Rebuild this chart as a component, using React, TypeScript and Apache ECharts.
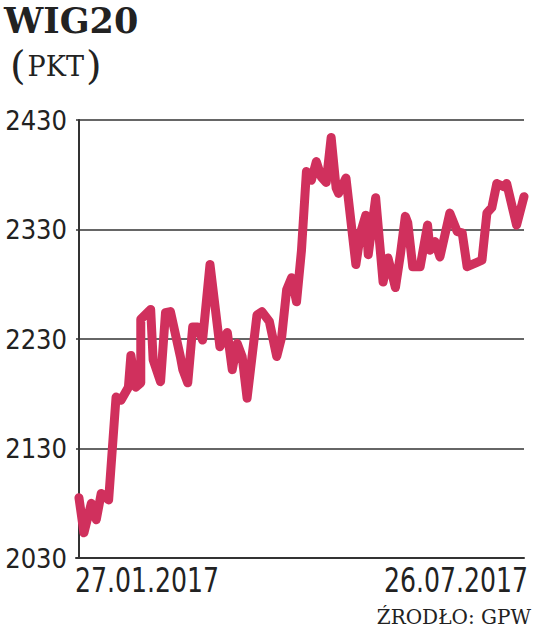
import React, { useEffect, useRef } from "react";
import * as echarts from "echarts";

const TITLE = "WIG20";
const UNIT = "PKT";
const SOURCE = "ŹRODŁO: GPW";
const DATE_LABELS = ["27.01.2017", "26.07.2017"];

// calendar days after 27.01.2017
const dayOffsets = [
  0, 2, 5, 7, 9, 12, 15, 17, 20, 21, 23, 25, 25, 29, 30, 33, 35, 37, 41, 42,
  44, 46, 48, 50, 53, 57, 60, 62, 64, 66, 68, 72, 74, 77, 80, 82, 84, 86, 88,
  90, 92, 94, 96, 98, 100, 102, 104, 105, 108, 112, 114, 116, 117, 120, 123,
  125, 128, 130, 132, 133, 135, 138, 141, 142, 144, 146, 150, 153, 155, 157,
  161, 163, 165, 167, 169, 172, 173, 177, 180,
];
const wig20 = [
  2085, 2053, 2080, 2065, 2089, 2083, 2177, 2174, 2186, 2215, 2186, 2190, 2248,
  2257, 2211, 2191, 2254, 2255, 2214, 2202, 2190, 2241, 2241, 2229, 2298, 2223,
  2236, 2202, 2226, 2214, 2176, 2252, 2255, 2246, 2214, 2232, 2275, 2286, 2264,
  2311, 2383, 2375, 2392, 2378, 2373, 2414, 2368, 2363, 2377, 2298, 2328, 2343,
  2307, 2359, 2282, 2304, 2277, 2307, 2342, 2336, 2296, 2296, 2334, 2311, 2319,
  2305, 2345, 2328, 2327, 2296, 2300, 2302, 2345, 2350, 2372, 2369, 2372, 2334,
  2360,
];
const Y_MIN = 2030;
const Y_MAX = 2430;
const Y_STEP = 100;

const NARROW = "'DejaVu Sans Condensed', 'Liberation Sans Narrow', 'Roboto Condensed', Roboto, sans-serif";

export default function App() {
  const ref = useRef<HTMLDivElement>(null);
  useEffect(() => {
    if (!ref.current) return;
    const chart = echarts.init(ref.current, undefined, { renderer: "svg" });
    const data = dayOffsets.map((d, i) => [d, wig20[i]]);
    chart.setOption({
      animation: false,
      backgroundColor: "#ffffff",
      grid: { left: 76, top: 120, width: 448, height: 438, containLabel: false },
      xAxis: {
        type: "value",
        min: -1.2,
        max: 180,
        axisLine: { show: true, lineStyle: { color: "#333333", width: 2 } },
        axisTick: { show: false },
        axisLabel: { show: false },
        splitLine: { show: false },
      },
      yAxis: {
        type: "value",
        min: Y_MIN,
        max: Y_MAX,
        interval: Y_STEP,
        axisLine: { show: true, lineStyle: { color: "#333333", width: 2 } },
        axisTick: { show: false },
        axisLabel: {
          color: "#222222",
          fontFamily: NARROW,
          fontSize: 27,
          margin: 9,
          formatter: (v: number) => String(v),
        },
        splitLine: { show: true, lineStyle: { color: "#333333", width: 1.5 } },
      },
      series: [
        {
          type: "line",
          data,
          showSymbol: false,
          symbol: "none",
          lineStyle: { color: "#d0305d", width: 9, cap: "round", join: "round" },
          z: 5,
        },
      ],
      graphic: [
        {
          type: "text",
          left: 4,
          top: 3,
          style: {
            text: TITLE,
            font: "bold 35px 'DejaVu Serif'",
            fill: "#222222",
          },
        },
        {
          type: "text",
          left: 10,
          top: 45,
          style: {
            text: `{p|(}{t|${UNIT}}{p|)}`,
            rich: {
              p: { font: "40px 'DejaVu Serif'", fill: "#222222", verticalAlign: "bottom" },
              t: { font: "27px 'DejaVu Serif'", fill: "#222222", verticalAlign: "bottom", padding: [0, 2, 5, 2] },
            },
          },
        },
        {
          type: "text",
          x: 75,
          y: 563,
          scaleY: 1.2,
          style: {
            text: DATE_LABELS[0],
            font: `28px ${NARROW}`,
            fill: "#222222",
            align: "left",
            verticalAlign: "top",
          },
        },
        {
          type: "text",
          x: 528,
          y: 563,
          scaleY: 1.2,
          style: {
            text: DATE_LABELS[1],
            font: `28px ${NARROW}`,
            fill: "#222222",
            align: "right",
            verticalAlign: "top",
          },
        },
        {
          type: "text",
          x: 531,
          y: 627,
          style: {
            text: SOURCE,
            font: "20px 'DejaVu Serif'",
            fill: "#222222",
            align: "right",
            verticalAlign: "bottom",
          },
        },
      ],
    });
    return () => chart.dispose();
  }, []);
  return (
    <div
      ref={ref}
      style={{ position: "fixed", left: 0, top: 0, width: 536, height: 644 }}
    />
  );
}
